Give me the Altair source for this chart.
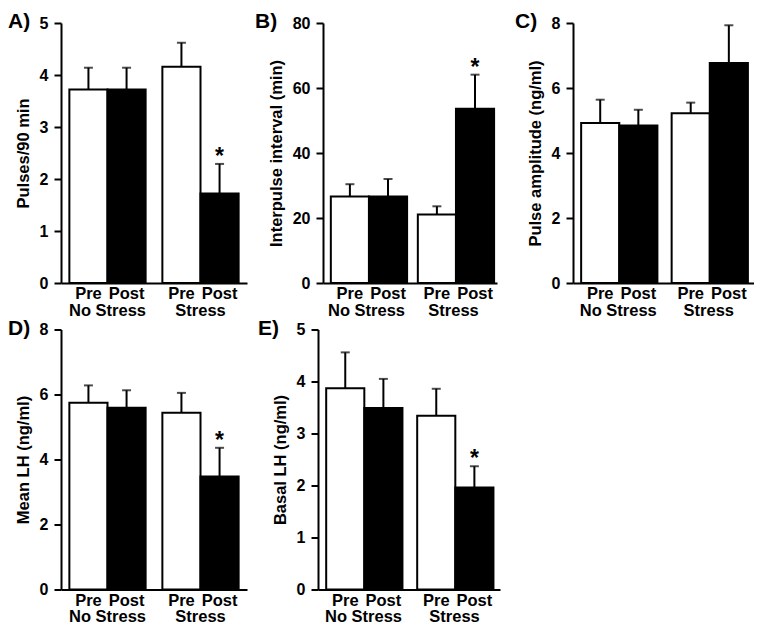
import altair as alt
import pandas as pd

FONT = "Liberation Sans"

groups = ["No Stress", "No Stress", "Stress", "Stress"]
conditions = ["Pre", "Post", "Pre", "Post"]

pulses_mean = [3.72, 3.72, 4.16, 1.72]
pulses_sem = [0.42, 0.42, 0.46, 0.57]
pulses_sig = [False, False, False, True]

ipi_mean = [26.6, 26.6, 21.1, 53.6]
ipi_sem = [3.8, 5.4, 2.5, 10.5]
ipi_sig = [False, False, False, True]

amp_mean = [4.92, 4.85, 5.22, 6.77]
amp_sem = [0.72, 0.48, 0.33, 1.16]
amp_sig = [False, False, False, False]

meanlh_mean = [5.75, 5.59, 5.44, 3.48]
meanlh_sem = [0.53, 0.54, 0.61, 0.88]
meanlh_sig = [False, False, False, True]

basal_mean = [3.87, 3.49, 3.34, 1.96]
basal_sem = [0.69, 0.56, 0.52, 0.41]
basal_sig = [False, False, False, True]

H = 260


def panel(letter, ytitle, means, sems, sig, ymax, step, width, label_x):
    df = pd.DataFrame({
        "group": groups,
        "cond": conditions,
        "mean": means,
        "sem": sems,
        "sig": ["*" if s else "" for s in sig],
    })
    df["top"] = df["mean"] + df["sem"]
    base = alt.Chart(df)
    x = alt.X(
        "group:N",
        sort=["No Stress", "Stress"],
        scale=alt.Scale(paddingInner=0.18, paddingOuter=0.09),
        axis=alt.Axis(
            title=None, labelAngle=0, ticks=False, labelPadding=19,
            labelFontSize=16.5, labelFont=FONT, labelFontWeight="bold",
            labelColor="black", domainColor="black", domainWidth=2, grid=False,
        ),
    )
    xo = alt.XOffset("cond:N", sort=["Pre", "Post"],
                     scale=alt.Scale(paddingInner=0, paddingOuter=0))
    ysc = alt.Scale(domain=[0, ymax], nice=False)
    yaxis = alt.Axis(values=list(range(0, ymax + 1, step)))

    bars = base.mark_bar(stroke="black", strokeWidth=2).encode(
        x=x, xOffset=xo,
        y=alt.Y("mean:Q", scale=ysc, axis=yaxis, title=ytitle),
        fill=alt.Fill("cond:N", scale=alt.Scale(domain=["Pre", "Post"], range=["white", "black"]), legend=None),
    )
    err = base.mark_rule(color="black", strokeWidth=2).encode(
        x=x, xOffset=xo,
        y=alt.Y("mean:Q", scale=ysc, axis=yaxis, title=ytitle),
        y2="top:Q",
    )
    cap = base.mark_tick(color="black", thickness=2, size=9).encode(
        x=x, xOffset=xo,
        y=alt.Y("top:Q", scale=ysc, axis=yaxis, title=ytitle),
    )
    star = base.transform_filter("datum.sig != ''").mark_text(
        font=FONT, fontWeight="bold", fontSize=23, baseline="alphabetic", dy=0, color="black"
    ).encode(
        x=x, xOffset=xo,
        y=alt.Y("top:Q", scale=ysc, axis=yaxis, title=ytitle),
        text="sig:N",
    )
    prepost = base.mark_text(
        font=FONT, fontWeight="bold", fontSize=16.5, baseline="top", color="black"
    ).encode(
        x=x, xOffset=xo, y=alt.value(H + 3), text="cond:N",
    )
    label = alt.Chart(pd.DataFrame({"t": [letter]})).mark_text(
        font=FONT, fontWeight="bold", fontSize=21, align="left", baseline="top", color="black"
    ).encode(x=alt.value(label_x), y=alt.value(-12), text="t:N")

    return alt.layer(bars, err, cap, star, prepost, label).properties(width=width, height=H)


pA = panel("A)", "Pulses/90 min", pulses_mean, pulses_sem, pulses_sig, 5, 1, 186, -53)
pB = panel("B)", "Interpulse interval (min)", ipi_mean, ipi_sem, ipi_sig, 80, 20, 174, -68)
pC = panel("C)", "Pulse amplitude (ng/ml)", amp_mean, amp_sem, amp_sig, 8, 2, 181, -58)
pD = panel("D)", "Mean LH (ng/ml)", meanlh_mean, meanlh_sem, meanlh_sig, 8, 2, 186, -53)
pE = panel("E)", "Basal LH (ng/ml)", basal_mean, basal_sem, basal_sig, 5, 1, 182, -60)

top = alt.hconcat(alt.hconcat(pA, pB, spacing=8), pC, spacing=18)
bottom = alt.hconcat(pD, pE, spacing=11)

chart = alt.vconcat(top, bottom, spacing=-1.5).properties(
    padding={"top": 3, "left": 0, "right": 0, "bottom": 0}
).configure_view(stroke=None).configure_axisY(
    domainColor="black", domainWidth=2, tickColor="black", tickWidth=2, tickSize=7,
    labelPadding=6, labelFont=FONT, labelFontWeight="bold", labelFontSize=16,
    labelColor="black", titleFont=FONT, titleFontWeight="bold", titleFontSize=16.5,
    titleColor="black", titlePadding=8, grid=False,
)

chart.save("out.html", embed_options={"renderer": "svg", "actions": False})
